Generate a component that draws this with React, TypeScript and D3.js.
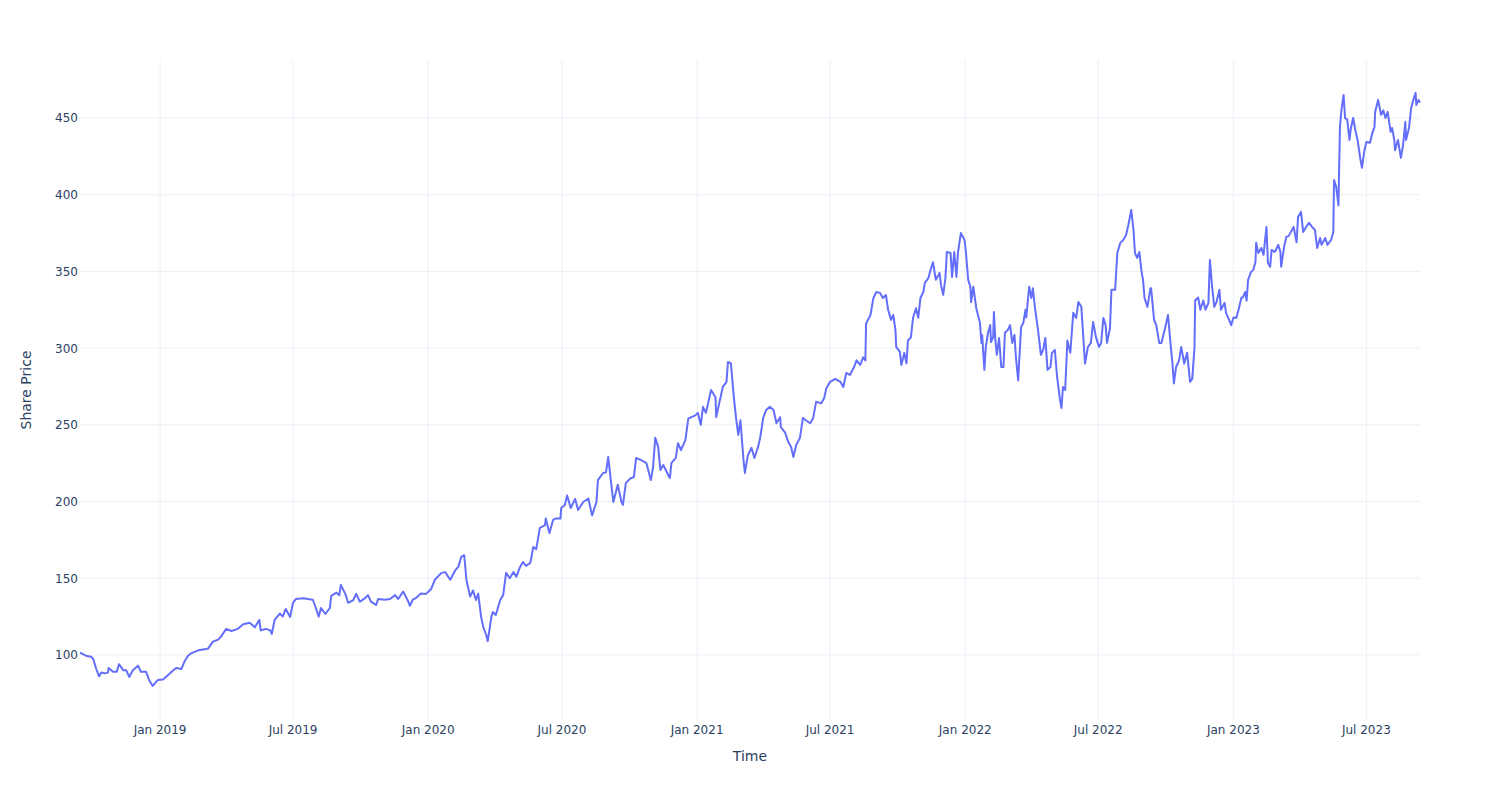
import React from "react";
import * as d3 from "d3";

// Daily share price: offset in days from the first date, and price.
const startDate = "2018-09-14";
const endOffset = 1824;

const dayOffsets: number[] = [
  0, 8, 15, 18, 22, 26, 29, 34, 38, 39, 45, 50, 53, 59, 63, 67, 72, 79, 83, 90, 94, 99, 106, 113, 120, 127, 131, 138, 142, 147, 151,
  161, 174, 181, 188, 192, 199, 206, 215, 222, 231, 238, 244, 246, 253, 259, 261, 265, 272, 276, 280, 286, 290, 294, 304,
  310, 317, 321, 325, 328, 334, 340, 342, 349, 353, 355, 361, 365, 372, 376, 381, 388, 392, 396, 403, 406, 415, 422, 429, 433, 440, 447, 449, 453,
  457, 464, 471, 478, 483, 492, 497, 504, 511, 515, 519, 523, 526, 531, 535, 539, 542, 546, 549, 553, 555, 560, 562, 566, 572, 576, 580, 585, 590, 594, 599, 603, 607, 613,
  617, 621, 626, 633, 634, 639, 644, 648, 654, 655, 660, 663, 668, 674, 678, 685, 692, 697, 703, 705, 712, 716, 719, 723, 726, 732, 737, 739, 743, 749, 754,
  757, 764, 771, 777, 780, 783, 787, 790, 794, 801, 803, 805, 811, 814, 818, 824, 828, 832, 837, 841, 845, 848, 852, 859, 865, 866, 871, 875, 880, 882, 886, 890, 893, 896, 899, 903, 905,
  909, 914, 918, 923, 926, 930, 934, 939, 944, 948, 953, 954, 960, 964, 968, 971, 975, 980, 984, 988, 994, 998, 1002, 1009, 1013, 1016, 1021, 1028, 1035, 1039, 1043, 1048, 1054,
  1057, 1062, 1066, 1069, 1070, 1076, 1080, 1084, 1089, 1093, 1097, 1100, 1104, 1107, 1110, 1111, 1116, 1118, 1122, 1125, 1127, 1131, 1134, 1138, 1141, 1144, 1148, 1150, 1155, 1157,
  1161, 1165, 1170, 1172, 1175, 1178, 1180, 1185, 1187, 1190, 1193, 1195, 1199, 1204,
  1206, 1209, 1212, 1213, 1216, 1219, 1220, 1225, 1227, 1228, 1231, 1233, 1236, 1239, 1240, 1243, 1244, 1246, 1248, 1251, 1254, 1257, 1259, 1263, 1266, 1269, 1272, 1274, 1277,
  1281, 1284, 1287, 1288, 1292, 1295, 1297, 1300, 1304, 1308, 1311, 1314, 1317, 1321, 1323, 1327, 1330, 1334, 1336, 1338, 1341, 1344, 1348, 1352,
  1356, 1359, 1363, 1366, 1368, 1372, 1376, 1379, 1383, 1387, 1390, 1393, 1396, 1398, 1402, 1404, 1409, 1412, 1416, 1420, 1424, 1427, 1431, 1434, 1436, 1439, 1442, 1445, 1447, 1449,
  1453, 1457, 1458, 1462, 1465, 1469, 1472, 1477, 1481, 1484, 1487, 1489, 1492, 1496, 1499, 1503, 1507, 1511, 1514, 1517,
  1518, 1522, 1525, 1529, 1532, 1536, 1538, 1541, 1544, 1547, 1551, 1553, 1558, 1560, 1563, 1567, 1570, 1574, 1577, 1581, 1583, 1586, 1588, 1590, 1594, 1597, 1600, 1601, 1604,
  1608, 1611, 1615, 1617, 1620, 1622, 1626, 1628, 1631, 1634, 1635, 1639, 1642, 1645, 1652,
  1656, 1658, 1662, 1665, 1669, 1673, 1677, 1681, 1684, 1688, 1690, 1695, 1698, 1703, 1706, 1707, 1710, 1713, 1715, 1717, 1720, 1722, 1725, 1728, 1730, 1733, 1736, 1739, 1743, 1745,
  1748, 1751, 1756, 1759, 1762, 1763, 1767, 1771, 1774, 1777, 1780, 1784, 1786, 1789, 1790, 1794, 1798, 1801, 1804, 1805, 1809, 1812, 1815, 1818, 1819, 1822, 1824,
];

const prices: number[] = [
  101.5, 99.5, 98.8, 97.4, 91, 86, 88.5, 88, 88.5, 91.5, 89, 89, 94, 90, 90, 85.7, 90, 93, 89, 89, 83.7, 79.8, 83.7, 84, 87, 90, 91.5, 90.8, 95.5, 99.5, 101,
  103, 104, 108.7, 110, 112, 117, 115.6, 117, 120, 121, 118, 122.8, 116, 117, 116, 113.7, 122.8, 127, 125, 130, 124.8, 134, 136.5, 137,
  136.5, 136, 130.6, 125, 130.6, 126.7, 130.6, 138.5, 140.6, 139, 145.6, 140, 134, 135.8, 139.8, 134.7, 137, 139, 134.7, 132.6, 136.5, 136, 136.5, 139, 136.5, 141.3, 134.7, 132, 136,
  137, 140, 139.8, 143, 149, 153.5, 154, 149, 155.4, 157.4, 164, 165, 149, 138, 142, 135.8, 140, 124.8, 118, 113, 109, 124.8, 128, 126, 135.8, 139, 153.5, 150, 154, 151, 157.4, 160.6, 158, 160,
  170.4, 169, 182.8, 184.7, 189, 179.5, 188, 189, 189, 195.8, 197.8, 204, 195.8, 201.7, 194.5, 199.7, 202, 191, 199.7, 214, 218.6, 219, 229, 212, 199.7, 211, 199.7, 197.8, 212, 215, 216,
  228.4, 227, 225, 214, 222, 241.5, 235.6, 220.6, 223.8, 217, 215.4, 225, 228.4, 238, 233.6, 240, 254, 255, 256, 257.8, 250, 261.7, 257.8, 272.7, 268, 255, 266, 274.7, 278, 291, 290, 268, 254.5, 243.4, 253, 228, 218.6,
  230, 235, 228.4, 235.6, 242, 254.5, 259.7, 261.7, 259.7, 251, 255, 248.6, 244.7, 238.9, 235.6, 229, 237, 241.5, 254.5, 253, 251, 254.5, 265, 264, 267.5, 274, 278, 280, 278, 274.7, 283.8, 282.5, 288,
  292, 289, 294, 292, 316, 321.6, 332.7, 336.6, 336, 332.7, 334.7, 325, 318.4, 321.6, 311.7, 300.8, 297.5, 289, 296.9, 290, 305, 307, 320, 326, 319.7, 332.7, 336.6, 342.5, 345.8, 349.7,
  356, 344.5, 349, 341, 334.7, 345.8, 362.7, 362, 346.4, 362.7, 346.4, 362, 375, 370.5,
  362, 344.5, 340, 330, 340, 329.5, 326, 316.4, 303.4, 308.6, 285.8, 300.8, 310, 315, 304, 307, 323.6, 305, 295.6, 306.6, 287.7, 287.7, 310, 311.9, 315, 303.4, 308.6, 294, 279,
  313.8, 316.4, 325, 320, 340, 332.7, 339, 326, 311.9, 295.6, 298.8, 306.6, 285.8, 287.7, 296.9, 298.8, 281.2, 266.2, 261, 274.7, 272.7, 305, 297, 323,
  319.7, 330, 326.9, 305, 290, 300.8, 303.4, 317, 307, 300.8, 303.4, 319.7, 315, 303.4, 313, 338, 338, 362, 368.6, 370.5, 373.8, 380.3, 390, 377, 362, 358.8, 362.7, 349.7, 344.5, 332.7,
  326.9, 339, 339, 318.4, 315, 303.4, 303.4, 313, 321.6, 305, 290, 277, 287.7, 292, 300.8, 290, 297, 278, 280, 300,
  331, 333, 325, 331, 325, 329.5, 357.5, 340, 326.9, 330, 338, 325, 329.5, 323, 319.7, 315, 320, 319.7, 325, 333, 333, 336.6, 331, 344.5, 349.7, 351, 356, 368.6, 362,
  365.3, 360.8, 379, 355.5, 353, 364, 362.7, 364, 367.3, 362.7, 353, 366, 372.5, 373, 379,
  369, 385.5, 388.8, 375.7, 379, 381.6, 379, 377, 365.3, 371.8, 367.3, 371.8, 367.3, 370.5, 375.7, 409.6, 405, 393, 444, 455, 465, 450, 448.8, 435.7, 443.5, 450, 442, 435.7, 422.7, 417.5,
  428, 434.4, 433.8, 440, 444, 454, 461.8, 452, 455, 450, 454, 441, 443.5, 435.7, 429, 435.7, 424, 432.5, 447.5, 435.7, 443.5, 456.6, 461.8, 466.4, 458.5, 461.8, 460,
];

const yTickValues = [100, 150, 200, 250, 300, 350, 400, 450];
const xTitle = "Time";
const yTitle = "Share Price";

const W = 1500;
const H = 800;
const M = { left: 80, right: 80, top: 60, bottom: 80 };
const FONT = "'DejaVu Sans', 'Open Sans', Verdana, sans-serif";
const TEXT = "#2a3f5f";
const GRID = "#ebf0f8";
const LINE = "#636efa";

export default function App() {
  const parse = d3.timeParse("%Y-%m-%d");
  const start = parse(startDate) as Date;
  const data = dayOffsets.map((d, i) => ({ date: d3.timeDay.offset(start, d), value: prices[i] }));
  const end = d3.timeDay.offset(start, endOffset);

  const x = d3.scaleTime().domain([start, end]).range([M.left, W - M.right]);
  const y = d3.scaleLinear().domain([57.6, 487.8]).range([H - M.bottom, M.top]);

  const xTicks = d3.timeMonth.range(start, end).filter((d) => d.getMonth() % 6 === 0);
  const fmt = d3.timeFormat("%b %Y");

  const line = d3
    .line<{ date: Date; value: number }>()
    .x((d) => x(d.date))
    .y((d) => y(d.value));

  return (
    <svg
      width={W}
      height={H}
      style={{ position: "absolute", left: 0, top: 0, background: "#fff" }}
      fontFamily={FONT}
    >
      <rect x={0} y={0} width={W} height={H} fill="#fff" />
      {xTicks.map((t, i) => (
        <line key={"xg" + i} x1={x(t)} x2={x(t)} y1={M.top} y2={H - M.bottom} stroke={GRID} strokeWidth={1} />
      ))}
      {yTickValues.map((v) => (
        <line key={"yg" + v} x1={M.left} x2={W - M.right} y1={y(v)} y2={y(v)} stroke={GRID} strokeWidth={1} />
      ))}
      <path d={line(data) || ""} fill="none" stroke={LINE} strokeWidth={2} strokeLinejoin="round" />
      {xTicks.map((t, i) => (
        <text key={"xt" + i} x={x(t)} y={H - M.bottom + 10} textAnchor="middle" dominantBaseline="middle" fontSize={12} fill={TEXT}>
          {fmt(t)}
        </text>
      ))}
      {yTickValues.map((v) => (
        <text key={"yt" + v} x={M.left - 2} y={y(v) + 1} textAnchor="end" dominantBaseline="middle" fontSize={12} fill={TEXT}>
          {v}
        </text>
      ))}
      <text x={(M.left + W - M.right) / 2} y={757} textAnchor="middle" dominantBaseline="middle" fontSize={14} fill={TEXT}>
        {xTitle}
      </text>
      <text
        transform={`translate(27,${(M.top + H - M.bottom) / 2}) rotate(-90)`}
        textAnchor="middle"
        dominantBaseline="middle"
        fontSize={14}
        fill={TEXT}
      >
        {yTitle}
      </text>
    </svg>
  );
}
